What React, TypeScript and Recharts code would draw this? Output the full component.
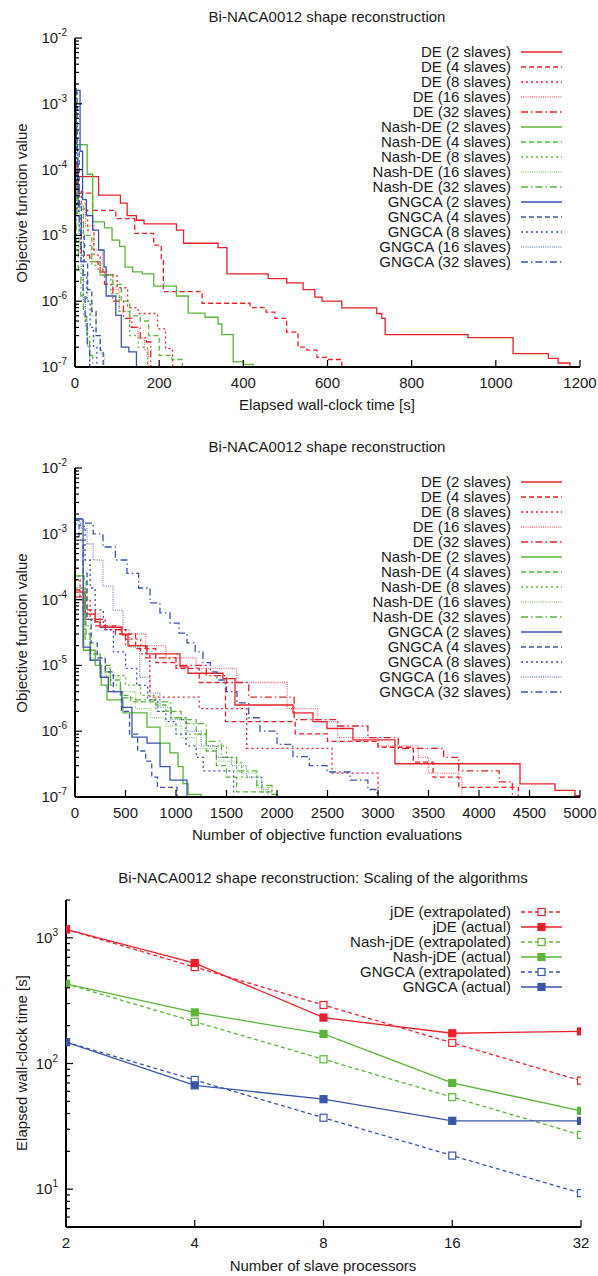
import { LineChart, Line, XAxis, YAxis } from "recharts"

type Pt = [number, number]

const RED = "#e8202a"
const GREEN = "#5cb43a"
const BLUE = "#3a55a8"
const FONT = "'Liberation Sans', Arial, sans-serif"
const INK = "#1a1a1a"

const slaveCounts = [2, 4, 8, 16, 32]
const methodNames = ["DE", "Nash-DE", "GNGCA"]
const methodColors = [RED, GREEN, BLUE]
const dashes = ["", "5 3", "2 3", "1 1.2", "7 3 1.5 3"]

// ---- panel 1: objective value vs wall-clock time [s]
const timeDE2: Pt[] = [[0, 1.3e-4], [5, 7.8e-5], [56, 4.1e-5], [108, 3.1e-5], [124, 2.0e-5], [146, 1.7e-5], [164, 1.5e-5], [241, 1.2e-5], [258, 7.6e-6], [340, 6.5e-6], [361, 2.6e-6], [459, 2.2e-6], [503, 1.9e-6], [542, 1.5e-6], [570, 1.15e-6], [587, 1.0e-6], [634, 7.9e-7], [717, 6.5e-7], [729, 5.5e-7], [737, 3.1e-7], [934, 2.8e-7], [1041, 1.6e-7], [1125, 1.35e-7], [1148, 1.15e-7], [1176, 1e-7]]
const timeDE4: Pt[] = [[0, 1.2e-4], [5, 4.4e-5], [42, 2.4e-5], [97, 1.8e-5], [142, 1.07e-5], [187, 7.1e-6], [205, 4.2e-6], [210, 1.4e-6], [302, 9.3e-7], [416, 8e-7], [454, 6.8e-7], [475, 5.5e-7], [503, 3.4e-7], [530, 2e-7], [551, 1.8e-7], [575, 1.4e-7], [600, 1.3e-7], [634, 1e-7]]
const timeDE8: Pt[] = [[0, 1.3e-4], [5, 5e-5], [15, 2.5e-5], [30, 1.2e-5], [45, 5e-6], [60, 3e-6], [75, 2.5e-6], [100, 1.6e-6], [125, 8e-7], [150, 6.5e-7], [196, 3.8e-7], [215, 1.9e-7], [232, 1e-7]]
const timeDE16: Pt[] = [[0, 1e-4], [8, 3e-5], [25, 1.4e-5], [45, 6e-6], [65, 2.5e-6], [90, 1.5e-6], [105, 7e-7], [130, 4e-7], [150, 2.7e-7], [165, 1.8e-7], [174, 1e-7]]
const timeDE32: Pt[] = [[0, 7e-5], [4, 2e-5], [15, 5e-6], [35, 4e-6], [55, 2.8e-6], [70, 1.8e-6], [90, 1e-6], [115, 5.5e-7], [135, 4e-7], [155, 2.8e-7], [170, 2.4e-7], [180, 1e-7]]
const timeNash2: Pt[] = [[0, 2.4e-4], [29, 8.5e-5], [42, 1.6e-5], [70, 1.3e-5], [88, 8.5e-6], [106, 6.8e-6], [119, 3.3e-6], [137, 2.8e-6], [160, 2.6e-6], [187, 1.7e-6], [241, 1.2e-6], [269, 6.6e-7], [309, 5.7e-7], [340, 4.5e-7], [349, 3.1e-7], [376, 1.2e-7], [400, 1.1e-7], [423, 1e-7]]
const timeNash4: Pt[] = [[0, 1.5e-4], [8, 3e-5], [20, 1e-5], [40, 4e-6], [60, 2.5e-6], [90, 1.8e-6], [110, 1e-6], [130, 6e-7], [155, 5e-7], [175, 3e-7], [200, 1.5e-7], [230, 1.3e-7], [255, 1e-7]]
const timeNash8: Pt[] = [[0, 1e-4], [6, 2e-5], [20, 7e-6], [40, 3.5e-6], [60, 2.5e-6], [85, 1.3e-6], [105, 7e-7], [130, 3e-7], [150, 2e-7], [172, 1e-7]]
const timeNash16: Pt[] = [[0, 6e-5], [4, 1.5e-5], [10, 5e-6], [20, 2e-6], [30, 1e-6], [40, 6e-7], [50, 3e-7], [60, 1.6e-7], [70, 1e-7]]
const timeNash32: Pt[] = [[0, 4e-5], [3, 8e-6], [8, 3e-6], [14, 1.2e-6], [20, 6e-7], [28, 3e-7], [35, 1.5e-7], [42, 1e-7]]
const timeGN2: Pt[] = [[0, 1.6e-3], [12, 1.9e-4], [18, 3.5e-5], [27, 2e-5], [42, 1.2e-5], [56, 6e-6], [69, 3.3e-6], [74, 1.2e-6], [97, 6.1e-7], [110, 2e-7], [128, 1.7e-7], [146, 1e-7]]
const timeGN4: Pt[] = [[0, 1.5e-3], [5, 2e-4], [10, 3e-5], [15, 1e-5], [22, 4e-6], [30, 1.5e-6], [40, 7e-7], [50, 3e-7], [60, 1.8e-7], [67, 1e-7]]
const timeGN8: Pt[] = [[0, 1.2e-3], [4, 1.2e-4], [8, 2e-5], [14, 6e-6], [20, 2.5e-6], [28, 1e-6], [36, 4e-7], [44, 2e-7], [52, 1e-7]]
const timeGN16: Pt[] = [[0, 1.4e-3], [3, 2e-4], [6, 3e-5], [10, 8e-6], [15, 3e-6], [20, 1e-6], [25, 4e-7], [30, 2e-7], [35, 1e-7]]
const timeGN32: Pt[] = [[0, 1.7e-3], [3, 3e-4], [6, 5e-5], [10, 1.2e-5], [14, 4e-6], [19, 1.2e-6], [24, 5e-7], [29, 2.2e-7], [35, 1e-7]]

// ---- panel 2: objective value vs number of evaluations
const evalDE2: Pt[] = [[0, 1.3e-4], [100, 6e-5], [200, 4.6e-5], [248, 3.8e-5], [465, 2.9e-5], [525, 2e-5], [713, 1.5e-5], [1040, 9.5e-6], [1119, 7.6e-6], [1465, 6.3e-6], [1584, 2.5e-6], [2158, 1.9e-6], [2356, 1.4e-6], [2495, 1.1e-6], [2752, 7.4e-7], [3168, 3.2e-7], [4406, 1.58e-7], [4752, 1.26e-7], [4950, 1.05e-7], [5000, 1e-7]]
const evalDE4: Pt[] = [[0, 1.4e-4], [80, 7e-5], [200, 4e-5], [400, 3e-5], [600, 1.8e-5], [800, 1.1e-5], [1000, 9e-6], [1230, 5.5e-6], [1490, 1.4e-6], [2180, 9.1e-7], [2500, 7e-7], [3000, 5.7e-7], [3350, 3.4e-7], [3545, 2e-7], [3800, 1.4e-7], [4390, 1e-7]]
const evalDE8: Pt[] = [[0, 2e-4], [50, 1e-4], [150, 5e-5], [300, 3.5e-5], [500, 2.5e-5], [650, 1.5e-5], [741, 3.3e-6], [1230, 2.2e-6], [1700, 5.5e-7], [2545, 2.3e-7], [3000, 1e-7]]
const evalDE16: Pt[] = [[0, 1.5e-4], [100, 6e-5], [250, 4e-5], [450, 3e-5], [700, 2e-5], [900, 1.3e-5], [1200, 9e-6], [1600, 5.5e-6], [2100, 2.2e-6], [2400, 1.4e-6], [2600, 8e-7], [3000, 6e-7], [3400, 4e-7], [3500, 2.3e-7], [3800, 2e-7], [3830, 1e-7]]
const evalDE32: Pt[] = [[0, 1.1e-4], [100, 5e-5], [300, 3.5e-5], [500, 2e-5], [700, 1.3e-5], [1000, 1e-5], [1300, 7e-6], [1500, 5.5e-6], [1720, 3.3e-6], [2170, 1.5e-6], [2600, 1.2e-6], [2900, 8e-7], [3200, 5.5e-7], [3650, 4e-7], [3800, 2.5e-7], [4200, 1.7e-7], [4330, 1e-7]]
const evalNash2: Pt[] = [[0, 2.3e-4], [85, 1.7e-5], [200, 1e-5], [260, 5e-6], [317, 3e-6], [475, 1.9e-6], [713, 1.15e-6], [842, 6.6e-7], [940, 4.7e-7], [1020, 2.9e-7], [1070, 1.6e-7], [1120, 1.1e-7], [1250, 1e-7]]
const evalNash4: Pt[] = [[0, 2.3e-4], [90, 2e-4], [110, 3e-5], [150, 1.5e-5], [250, 1e-5], [350, 6e-6], [450, 3.5e-6], [550, 2.8e-6], [800, 2.5e-6], [900, 2e-6], [1050, 1.5e-6], [1200, 9e-7], [1300, 5e-7], [1400, 3e-7], [1500, 2e-7], [1600, 1.2e-7], [1950, 1.1e-7], [2000, 1e-7]]
const evalNash8: Pt[] = [[0, 1.5e-4], [100, 4e-5], [150, 1.5e-5], [250, 9e-6], [350, 7e-6], [500, 5e-6], [650, 3.5e-6], [800, 2e-6], [950, 1.6e-6], [1100, 9e-7], [1300, 6e-7], [1500, 4e-7], [1600, 3.3e-7], [1650, 2e-7], [1850, 1.2e-7], [1900, 1e-7]]
const evalNash16: Pt[] = [[0, 1.2e-4], [100, 3e-5], [160, 1.3e-5], [300, 7e-6], [450, 4e-6], [600, 2.2e-6], [750, 1.6e-6], [900, 1.2e-6], [1050, 8e-7], [1200, 5.5e-7], [1400, 3.5e-7], [1600, 2.3e-7], [1800, 1.4e-7], [1950, 1e-7]]
const evalNash32: Pt[] = [[0, 1e-4], [100, 2.5e-5], [150, 1.2e-5], [250, 8e-6], [350, 5e-6], [450, 3.2e-6], [600, 3e-6], [850, 2.8e-6], [950, 1.6e-6], [1100, 1.3e-6], [1300, 7e-7], [1450, 4e-7], [1600, 2.5e-7], [1800, 1.5e-7], [1950, 1.1e-7], [2000, 1e-7]]
const evalGN2: Pt[] = [[0, 1.67e-3], [80, 1.9e-5], [150, 1.2e-5], [250, 6.6e-6], [330, 4e-6], [465, 2.3e-6], [564, 8.1e-7], [713, 6.6e-7], [842, 2.9e-7], [940, 1.8e-7], [1109, 1e-7]]
const evalGN4: Pt[] = [[0, 1.6e-3], [40, 8e-4], [80, 2.5e-4], [120, 5e-5], [160, 2.2e-5], [220, 1.3e-5], [300, 8e-6], [380, 4e-6], [460, 2e-6], [540, 9e-7], [620, 5e-7], [700, 3.5e-7], [760, 2e-7], [816, 1.4e-7], [1010, 1e-7]]
const evalGN8: Pt[] = [[0, 1.4e-3], [50, 1.3e-3], [100, 4e-4], [150, 1.5e-4], [200, 7e-5], [280, 3.5e-5], [380, 1.6e-5], [500, 9e-6], [610, 5e-6], [720, 3e-6], [820, 2e-6], [900, 1.4e-6], [1000, 9e-7], [1100, 6e-7], [1200, 4e-7], [1270, 2.5e-7], [1570, 1e-7]]
const evalGN16: Pt[] = [[0, 1.5e-3], [60, 1.2e-3], [120, 7e-4], [180, 4e-4], [277, 1.6e-4], [376, 6.9e-5], [475, 3.5e-5], [541, 1.9e-5], [640, 6.6e-6], [743, 3.8e-6], [842, 2.3e-6], [950, 1.5e-6], [1100, 1e-6], [1250, 6e-7], [1400, 4e-7], [1550, 3e-7], [1700, 2e-7], [1850, 1.3e-7], [1910, 1e-7]]
const evalGN32: Pt[] = [[0, 1.7e-3], [80, 1.45e-3], [180, 1e-3], [277, 6.3e-4], [400, 4e-4], [515, 2.5e-4], [630, 1.5e-4], [743, 8.9e-5], [841, 6.3e-5], [941, 4.4e-5], [1030, 3.1e-5], [1109, 2.2e-5], [1190, 1.6e-5], [1267, 1.1e-5], [1340, 8e-6], [1406, 6e-6], [1500, 4e-6], [1604, 2.7e-6], [1720, 1.6e-6], [1832, 1e-6], [2000, 6.3e-7], [2158, 4.1e-7], [2320, 3e-7], [2495, 2.4e-7], [2723, 1.8e-7], [2900, 1.3e-7], [2990, 1e-7]]

// ---- panel 3: scaling
const processors = [2, 4, 8, 16, 32]
const jdeExtrap = [1170, 585, 292, 146, 73]
const jdeActual = [1170, 630, 232, 174, 180]
const nashExtrap = [430, 215, 108, 54, 27]
const nashActual = [430, 255, 172, 70, 42]
const gngcaExtrap = [148, 74, 37, 18.5, 9.3]
const gngcaActual = [148, 67, 52, 35, 35]

const timeTicks = [0, 200, 400, 600, 800, 1000, 1200]
const evalTicks = [0, 500, 1000, 1500, 2000, 2500, 3000, 3500, 4000, 4500, 5000]
const objExps = [-7, -6, -5, -4, -3, -2]
const scaleExps = [1, 2, 3]

const timeRuns = [
  [timeDE2, timeDE4, timeDE8, timeDE16, timeDE32],
  [timeNash2, timeNash4, timeNash8, timeNash16, timeNash32],
  [timeGN2, timeGN4, timeGN8, timeGN16, timeGN32],
]
const evalRuns = [
  [evalDE2, evalDE4, evalDE8, evalDE16, evalDE32],
  [evalNash2, evalNash4, evalNash8, evalNash16, evalNash32],
  [evalGN2, evalGN4, evalGN8, evalGN16, evalGN32],
]

type Series = { name: string; color: string; dash: string; fine: boolean; rows: { x: number; y: number }[] }

function buildSeries(runs: Pt[][][]): Series[] {
  const out: Series[] = []
  methodNames.forEach((m, mi) => {
    slaveCounts.forEach((n, si) => {
      out.push({
        name: `${m} (${n} slaves)`,
        color: methodColors[mi],
        dash: dashes[si],
        fine: si === 3,
        rows: runs[mi][si].map(([x, y]) => ({ x, y })),
      })
    })
  })
  return out
}

// log ticks with minor steps 2..9 inside each decade
function logTicks(exps: number[], extra: number[] = [], lowMinor: number[] = []) {
  const t: number[] = [...lowMinor]
  exps.forEach((e, i) => {
    t.push(Math.pow(10, e))
    if (i < exps.length - 1) for (let m = 2; m <= 9; m++) t.push(m * Math.pow(10, e))
  })
  return [...t, ...extra]
}

const isMajor = (v: number) => Math.abs(Math.log10(v) - Math.round(Math.log10(v))) < 1e-6

function LeftLogTick(p: any) {
  const v = p.payload.value
  const major = isMajor(v)
  return (
    <g>
      <line x1={p.x} x2={p.x + (major ? 7 : 4)} y1={p.y} y2={p.y} stroke="#000" strokeWidth={1.2} />
      {major && (
        <text x={p.x - 8} y={p.y + 5} textAnchor="end" fontSize={15} fill={INK} fontFamily={FONT}>
          10<tspan dy={-7} fontSize={10}>{Math.round(Math.log10(v))}</tspan>
        </text>
      )}
    </g>
  )
}

function RightLogTick(p: any) {
  const major = isMajor(p.payload.value)
  return <line x1={p.x} x2={p.x - (major ? 7 : 4)} y1={p.y} y2={p.y} stroke="#000" strokeWidth={1.2} />
}

function BottomTick(p: any) {
  return (
    <g>
      <line x1={p.x} x2={p.x} y1={p.y} y2={p.y - 7} stroke="#000" strokeWidth={1.2} />
      <text x={p.x} y={p.y + 21} textAnchor="middle" fontSize={15} fill={INK} fontFamily={FONT}>
        {p.payload.value}
      </text>
    </g>
  )
}

function TopTick(p: any) {
  return <line x1={p.x} x2={p.x} y1={p.y} y2={p.y + 7} stroke="#000" strokeWidth={1.2} />
}

const frame = { stroke: "#000", strokeWidth: 2 }

function Label({ x, y, text, rotate }: { x: number; y: number; text: string; rotate?: boolean }) {
  return (
    <div
      style={{
        position: "absolute",
        left: x,
        top: y,
        transform: `translate(-50%, -50%)${rotate ? " rotate(-90deg)" : ""}`,
        whiteSpace: "nowrap",
        fontSize: 15,
        color: INK,
      }}
    >
      {text}
    </div>
  )
}

type KeyEntry = { label: string; color: string; dash: string; fine?: boolean; marker?: "open" | "filled" }

function KeyBox({ entries, top }: { entries: KeyEntry[]; top: number }) {
  return (
    <>
      {entries.map((e, i) => {
        const cy = top + i * 15
        return (
          <div key={e.label}>
            <div style={{ position: "absolute", left: 0, width: 511, top: cy - 9, lineHeight: "18px", textAlign: "right", fontSize: 15, color: INK, whiteSpace: "nowrap" }}>
              {e.label}
            </div>
            <svg width={44} height={10} style={{ position: "absolute", left: 520, top: cy - 5 }}>
              <line x1={1} x2={42} y1={5} y2={5} stroke={e.color} strokeWidth={1.3} strokeDasharray={e.dash} strokeOpacity={e.fine ? 0.65 : 1} />
              {e.marker && <rect x={18} y={1.5} width={7} height={7} fill={e.marker === "filled" ? e.color : "#fff"} stroke={e.color} strokeWidth={1.2} />}
            </svg>
          </div>
        )
      })}
    </>
  )
}

function StepPanel({ top, xLabel, xMax, xTicks, series }: { top: number; xLabel: string; xMax: number; xTicks: number[]; series: Series[] }) {
  const yTicks = logTicks(objExps)
  return (
    <div style={{ position: "absolute", left: 0, top, width: 598, height: 420 }}>
      <Label x={327} y={16} text="Bi-NACA0012 shape reconstruction" />
      <LineChart width={598} height={420} margin={{ top: 38, right: 18, bottom: 8, left: 8 }}>
        <XAxis xAxisId="b" type="number" dataKey="x" domain={[0, xMax]} ticks={xTicks} interval={0} height={45} tickSize={0} tickMargin={0} tickLine={false} axisLine={frame} tick={(p: any) => <BottomTick {...p} />} allowDataOverflow />
        <XAxis xAxisId="t" orientation="top" type="number" dataKey="x" domain={[0, xMax]} ticks={xTicks} interval={0} height={0} tickSize={0} tickMargin={0} tickLine={false} axisLine={frame} tick={(p: any) => <TopTick {...p} />} allowDataOverflow />
        <YAxis yAxisId="l" type="number" scale="log" domain={[1e-7, 1e-2]} ticks={yTicks} interval={0} width={67} tickSize={0} tickMargin={0} tickLine={false} axisLine={frame} tick={(p: any) => <LeftLogTick {...p} />} allowDataOverflow />
        <YAxis yAxisId="r" orientation="right" type="number" scale="log" domain={[1e-7, 1e-2]} ticks={yTicks} interval={0} width={0} tickSize={0} tickMargin={0} tickLine={false} axisLine={frame} tick={(p: any) => <RightLogTick {...p} />} allowDataOverflow />
        {series.map((s) => (
          <Line
            key={s.name}
            data={s.rows}
            xAxisId="b"
            yAxisId="l"
            dataKey="y"
            type="stepAfter"
            stroke={s.color}
            strokeOpacity={s.fine ? 0.65 : 1}
            strokeWidth={1.3}
            strokeDasharray={s.dash}
            dot={false}
            isAnimationActive={false}
          />
        ))}
      </LineChart>
      <Label x={21} y={203} text="Objective function value" rotate />
      <Label x={327} y={404} text={xLabel} />
      <KeyBox top={51.5} entries={series.map((s) => ({ label: s.name, color: s.color, dash: s.dash, fine: s.fine }))} />
    </div>
  )
}

const scalingRows = processors.map((p, i) => ({
  p,
  jdeExtrap: jdeExtrap[i],
  jdeActual: jdeActual[i],
  nashExtrap: nashExtrap[i],
  nashActual: nashActual[i],
  gngcaExtrap: gngcaExtrap[i],
  gngcaActual: gngcaActual[i],
}))

const scalingSeries = [
  { key: "jdeExtrap", label: "jDE (extrapolated)", color: RED, open: true },
  { key: "jdeActual", label: "jDE (actual)", color: RED, open: false },
  { key: "nashExtrap", label: "Nash-jDE (extrapolated)", color: GREEN, open: true },
  { key: "nashActual", label: "Nash-jDE (actual)", color: GREEN, open: false },
  { key: "gngcaExtrap", label: "GNGCA (extrapolated)", color: BLUE, open: true },
  { key: "gngcaActual", label: "GNGCA (actual)", color: BLUE, open: false },
]

function ScalingPanel({ top }: { top: number }) {
  const yTicks = logTicks(scaleExps, [2000], [5, 6, 7, 8, 9])
  return (
    <div style={{ position: "absolute", left: 0, top, width: 598, height: 416 }}>
      <Label x={323} y={17} text="Bi-NACA0012 shape reconstruction: Scaling of the algorithms" />
      <LineChart width={598} height={416} data={scalingRows} margin={{ top: 40, right: 17, bottom: 4, left: 8 }}>
        <XAxis xAxisId="b" type="number" dataKey="p" scale="log" domain={[2, 32]} ticks={processors} interval={0} height={45} tickSize={0} tickMargin={0} tickLine={false} axisLine={frame} tick={(p: any) => <BottomTick {...p} />} allowDataOverflow />
        <XAxis xAxisId="t" orientation="top" type="number" dataKey="p" scale="log" domain={[2, 32]} ticks={processors} interval={0} height={0} tickSize={0} tickMargin={0} tickLine={false} axisLine={frame} tick={(p: any) => <TopTick {...p} />} allowDataOverflow />
        <YAxis yAxisId="l" type="number" scale="log" domain={[5, 2000]} ticks={yTicks} interval={0} width={58} tickSize={0} tickMargin={0} tickLine={false} axisLine={frame} tick={(p: any) => <LeftLogTick {...p} />} allowDataOverflow />
        <YAxis yAxisId="r" orientation="right" type="number" scale="log" domain={[5, 2000]} ticks={yTicks} interval={0} width={0} tickSize={0} tickMargin={0} tickLine={false} axisLine={frame} tick={(p: any) => <RightLogTick {...p} />} allowDataOverflow />
        {scalingSeries.map((s) => (
          <Line
            key={s.key}
            xAxisId="b"
            yAxisId="l"
            dataKey={s.key}
            type="linear"
            stroke={s.color}
            strokeWidth={1.3}
            strokeDasharray={s.open ? "4 3" : ""}
            dot={(d: any) => (
              <rect key={`${s.key}-${d.index}`} x={d.cx - 3.5} y={d.cy - 3.5} width={7} height={7} fill={s.open ? "#fff" : s.color} stroke={s.color} strokeWidth={1.2} />
            )}
            isAnimationActive={false}
          />
        ))}
      </LineChart>
      <Label x={21} y={203} text="Elapsed wall-clock time [s]" rotate />
      <Label x={323} y={405} text="Number of slave processors" />
      <KeyBox top={52} entries={scalingSeries.map((s) => ({ label: s.label, color: s.color, dash: s.open ? "4 3" : "", marker: s.open ? "open" : "filled" }))} />
    </div>
  )
}

export default function App() {
  return (
    <div style={{ position: "absolute", left: 0, top: 0, width: 598, height: 1276, background: "#fff", fontFamily: FONT }}>
      <StepPanel top={0} xLabel="Elapsed wall-clock time [s]" xMax={1200} xTicks={timeTicks} series={buildSeries(timeRuns)} />
      <StepPanel top={430} xLabel="Number of objective function evaluations" xMax={5000} xTicks={evalTicks} series={buildSeries(evalRuns)} />
      <ScalingPanel top={860} />
    </div>
  )
}
